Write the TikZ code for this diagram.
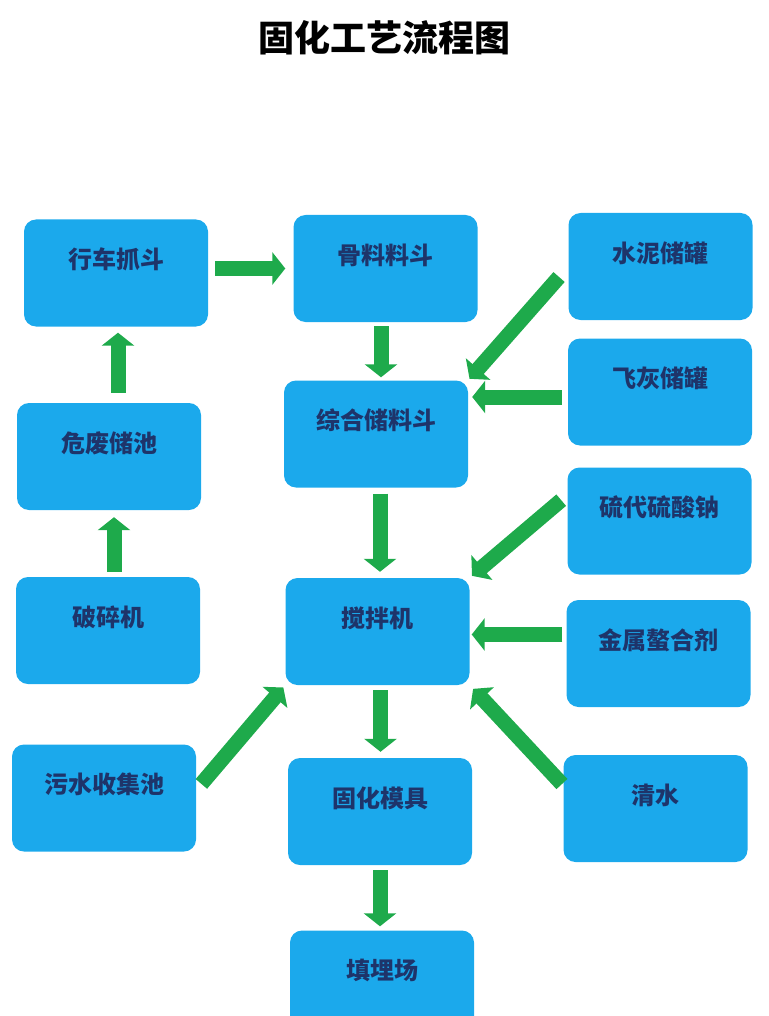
\documentclass[tikz,border=0pt]{standalone}
\usepackage{fontspec}
\setmainfont{Noto Sans CJK SC}
\usetikzlibrary{arrows.meta}
\definecolor{boxblue}{RGB}{27,169,236}
\definecolor{arrowgreen}{RGB}{30,170,75}
\definecolor{textnavy}{RGB}{30,52,106}

\begin{document}
\begin{tikzpicture}[x=1pt,y=-1pt,
  box/.style={fill=boxblue,rounded corners=12pt,minimum width=184pt,minimum height=107pt,
    inner sep=0pt,text height=49pt,text depth=58pt,text=textnavy,font=\fontsize{24}{27}\selectfont\bfseries},
  flow/.style={draw=arrowgreen,line width=15pt,-{Triangle[width=32pt,length=13pt]}}]
\useasboundingbox (0,0) rectangle (768,1016);

\node (title) at (384,38) {\fontsize{36}{40}\selectfont\bfseries 固化工艺流程图};

\node[box] (crane) at (116,273) {行车抓斗};
\node[box] (aggr) at (385.5,268.5) {骨料料斗};
\node[box] (cement) at (660.5,266.5) {水泥储罐};
\node[box] (flyash) at (660,392) {飞灰储罐};
\node[box] (hopper) at (376,434) {综合储料斗};
\node[box] (pool) at (109,456.5) {危废储池};
\node[box] (thio) at (659.5,521) {硫代硫酸钠};
\node[box] (crusher) at (108,630.5) {破碎机};
\node[box] (mixer) at (377.5,631.5) {搅拌机};
\node[box] (chelate) at (658.5,653.5) {金属螯合剂};
\node[box] (sewage) at (104,798) {污水收集池};
\node[box] (mold) at (380,811.5) {固化模具};
\node[box] (water) at (655.5,808.5) {清水};
\node[box] (landfill) at (382,984) {填埋场};

\draw[flow,shorten <=7pt,shorten >=8pt] (crane.east |- aggr.west) -- (aggr.west);
\draw[flow,shorten <=10pt,shorten >=6pt] ([xshift=9pt]pool.north) -- ([xshift=9pt]pool.north |- crane.south);
\draw[flow,shorten <=5pt,shorten >=7pt] ([xshift=6pt]crusher.north) -- ([xshift=6pt]crusher.north |- pool.south);

\draw[flow,shorten <=4pt,shorten >=3pt] ([xshift=-4.5pt]aggr.south) -- ([xshift=-4.5pt]aggr.south |- hopper.north);
\draw[flow,shorten <=14pt,shorten >=2pt] (cement.west) -- (hopper.north east);
\draw[flow,shorten <=6pt,shorten >=4pt] ([yshift=-5pt]flyash.west) -- ([yshift=-5pt]flyash.west -| hopper.east);

\draw[flow,shorten <=6pt,shorten >=6pt] ([xshift=4pt]hopper.south) -- ([xshift=4pt]hopper.south |- mixer.north);
\draw[flow,shorten <=8pt,shorten >=3pt] ([yshift=26pt]thio.west) -- (mixer.north east);
\draw[flow,shorten <=4pt,shorten >=2pt] ([yshift=-3pt]mixer.east -| chelate.west) -- ([yshift=-3pt]mixer.east);
\draw[flow,shorten <=2pt,shorten >=5pt] ([yshift=23pt]water.west) -- (mixer.south east);
\draw[flow,shorten <=8pt,shorten >=3pt] ([yshift=8pt]sewage.east) -- (mixer.south west);

\draw[flow,shorten <=5pt,shorten >=6pt] ([xshift=3pt]mixer.south) -- ([xshift=3pt]mixer.south |- mold.north);
\draw[flow,shorten <=5pt,shorten >=4pt] (mold.south) -- (mold.south |- landfill.north);
\end{tikzpicture}
\end{document}
